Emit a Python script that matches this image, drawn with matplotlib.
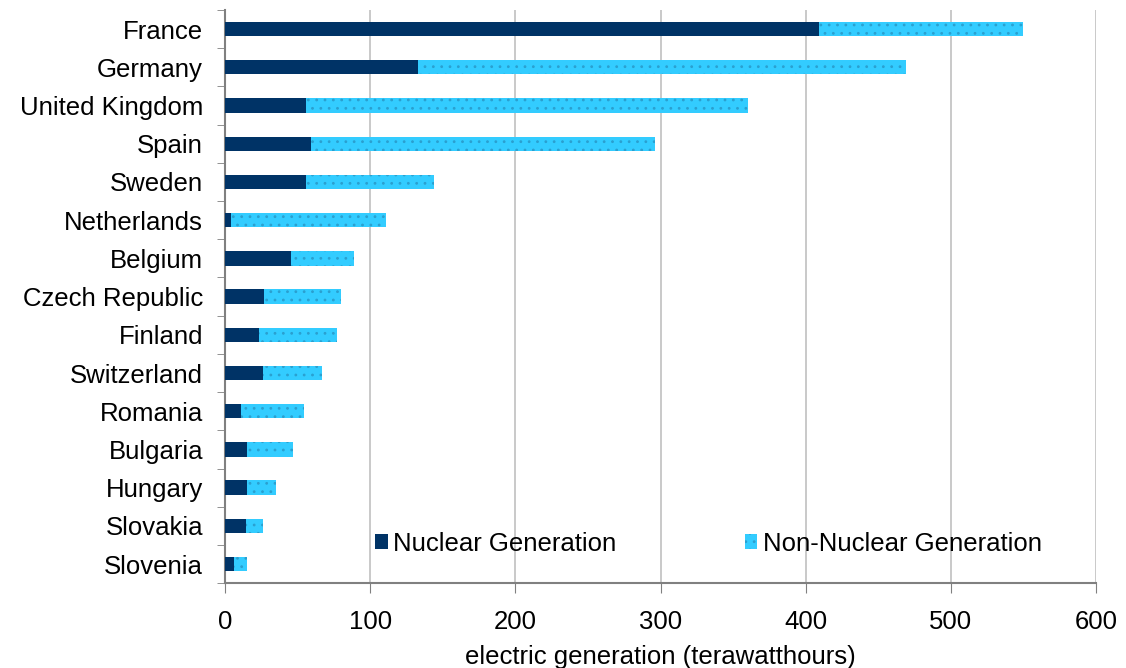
import matplotlib.pyplot as plt
import numpy as np

plt.rcParams['font.family'] = ['Liberation Sans', 'DejaVu Sans']
plt.rcParams['hatch.linewidth'] = 0.8

# Daten (TWh), von oben nach unten
countries = ['France', 'Germany', 'United Kingdom', 'Spain', 'Sweden', 'Netherlands',
             'Belgium', 'Czech Republic', 'Finland', 'Switzerland', 'Romania',
             'Bulgaria', 'Hungary', 'Slovakia', 'Slovenia']
nuclear = [409, 133, 56, 59, 56, 4, 45, 27, 23, 26, 11, 15, 15, 14, 6]
total = [550, 469, 360, 296, 144, 111, 89, 80, 77, 67, 54, 47, 35, 26, 15]
non_nuclear = [t - n for t, n in zip(total, nuclear)]

dark = '#003366'
light = '#33ccff'
fs = 18.5

fig = plt.figure(figsize=(11.26, 6.68), dpi=100)
ax = fig.add_axes([0.2, 0.127, 0.7734, 0.858])

y = np.arange(len(countries))
h = 0.375
ax.barh(y, nuclear, height=h, color=dark, label='Nuclear Generation', zorder=3)
ax.barh(y, non_nuclear, left=nuclear, height=h, color=light, edgecolor='#2aa0d0',
        linewidth=0, hatch='..', label='Non-Nuclear Generation', zorder=3)

ax.set_ylim(len(countries) - 0.5, -0.5)
ax.set_yticks(y)
ax.set_yticklabels(countries, fontsize=fs)
ax.set_yticks(np.arange(-0.5, len(countries), 1), minor=True)
ax.tick_params(axis='y', which='major', length=0, pad=16)
ax.tick_params(axis='y', which='minor', length=6, color='#808080', direction='out')

ax.set_xlim(0, 600)
ax.set_xticks(np.arange(0, 601, 100))
ax.tick_params(axis='x', labelsize=fs, length=7, color='#808080', pad=12)
ax.set_xlabel('electric generation (terawatthours)', fontsize=fs, labelpad=8)
ax.grid(axis='x', color='#c0c0c0', linewidth=1.2, zorder=0)

for s in ['top', 'right']:
    ax.spines[s].set_visible(False)
ax.spines['left'].set_color('#808080')
ax.spines['bottom'].set_color('#808080')
ax.spines['left'].set_linewidth(1.5)
ax.spines['bottom'].set_linewidth(1.5)

ax.legend(ncol=2, loc='lower left', bbox_to_anchor=(0.16, 0.03), frameon=False,
          fontsize=fs, handlelength=0.5, handleheight=0.5, handletextpad=0.2,
          columnspacing=5.0, borderaxespad=0)

fig.savefig('out.png', dpi=100)
